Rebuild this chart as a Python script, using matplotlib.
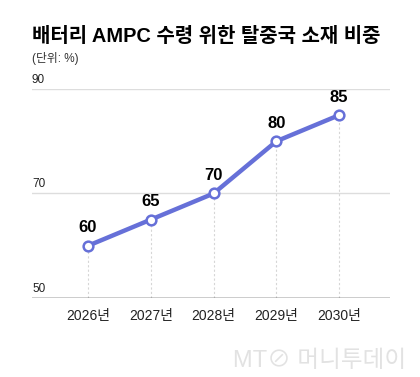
import matplotlib
matplotlib.use("Agg")
import matplotlib.pyplot as plt

plt.rcParams['font.family'] = ['Liberation Sans', 'Noto Sans CJK KR', 'DejaVu Sans']

# 데이터
years = ["2026년", "2027년", "2028년", "2029년", "2030년"]
values = [60, 65, 70, 80, 85]
y_ticks = [50, 70, 90]

LINE_COLOR = "#6670d8"

fig = plt.figure(figsize=(4.2, 3.77), dpi=100)
ax = fig.add_axes([32/420, (377-298)/377, 358/420, (298-89)/377])

x = list(range(len(years)))

# 세로 점선 (점에서 아래로)
for xi, v in zip(x, values):
    ax.plot([xi, xi], [50, v], color="#d6d6d6", lw=0.8, ls=(0, (2, 2)), zorder=1)

# 가로 격자선
for t in y_ticks:
    if t == 50:
        ax.axhline(t, color="black", lw=1.0, zorder=2)
    else:
        ax.axhline(t, color="#dddddd", lw=1.0, zorder=1)
    ax.text(0, t + 0.6, str(t), transform=ax.get_yaxis_transform(),
            ha="left", va="bottom", fontsize=8.5, color="#222222")

ax.plot(x, values, color=LINE_COLOR, lw=3.2, marker="o", markersize=7,
        markerfacecolor="white", markeredgecolor=LINE_COLOR, markeredgewidth=1.8,
        zorder=3, solid_capstyle="round")

for xi, v in zip(x, values):
    ax.text(xi, v + 2.0, str(v), ha="center", va="bottom", fontsize=12,
            fontweight="bold", color="black")

ax.set_xlim(-0.892, 4.81)
ax.set_ylim(50, 90)
ax.set_xticks(x)
ax.set_xticklabels(years, fontsize=10, color="#222222")
ax.tick_params(axis="x", length=0, pad=8)
ax.set_yticks([])
for s in ax.spines.values():
    s.set_visible(False)

fig.text(32/420, 1 - 42/377, "배터리 AMPC 수령 위한 탈중국 소재 비중",
         fontsize=14.4, fontweight="bold", ha="left", va="baseline", color="black")
fig.text(32/420, 1 - 62/377, "(단위: %)", fontsize=8.5, ha="left",
         va="baseline", color="#333333")

fig.text(406/420, 1 - 367/377, "MT⊘ 머니투데이", fontsize=17, ha="right",
         va="baseline", color="#e2e2e2")

fig.savefig("out.png", dpi=100)
